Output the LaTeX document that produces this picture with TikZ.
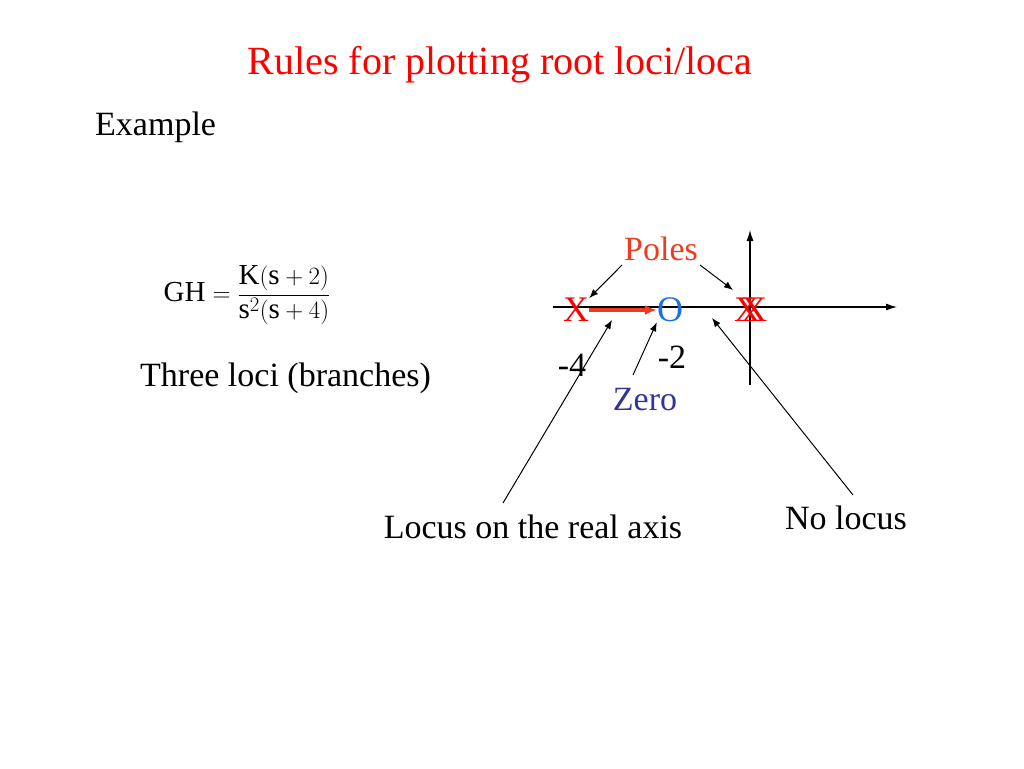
\documentclass[tikz,border=0pt]{standalone}
\usepackage{fontspec}
\setmainfont{Liberation Serif}
\usetikzlibrary{positioning,arrows.meta}
\definecolor{polered}{RGB}{240,60,30}
\definecolor{zeroblue}{RGB}{51,51,153}
\definecolor{oblue}{RGB}{30,110,230}
\begin{document}
\begin{tikzpicture}[
            x=1pt, y=-1pt,
            txt/.style={font=\fontsize{34}{38}\selectfont, inner sep=0pt},
            rootmark/.style={font=\fontsize{36}{38}\selectfont, inner sep=0pt, text=red},
            pointer/.style={draw, -{Latex[length=9pt,width=7pt]}, line width=1pt},
            axis/.style={draw, -{Latex[length=11pt,width=7pt]}, line width=1.1pt}
        ]
        \useasboundingbox (0,0) rectangle (1024,768);
        \node[txt, text=red, font=\fontsize{40}{44}\selectfont] (title) at (500,65) {Rules for plotting root loci/loca};
        \node[txt, anchor=west] (example) at (95,127) {Example};
        \node[inner sep=0pt, font=\fontsize{29}{34}\selectfont] (gh) at (247,295)
            {$\displaystyle \mathrm{GH}=\frac{\mathrm{K}(\mathrm{s}+2)}{\mathrm{s}^{2}(\mathrm{s}+4)}$};
        \node[txt, anchor=west] (three) at (140,378) {Three loci (branches)};
        % axes
        \coordinate (re0) at (553,307);
        \coordinate (re1) at (897,307);
        \coordinate (im0) at (750,385);
        \coordinate (im1) at (750,230);
        \draw[axis] (re0) -- (re1);
        \draw[axis] (im0) -- (im1);
        % poles and zero
        \node[rootmark] (p4) at (576,310) {X};
        \node[rootmark, text=oblue] (z2) at (670,310) {O};
        \node[rootmark] (p0a) at (747,310) {X};
        \node[rootmark] (p0b) at (754,310) {X};
        \draw[-{Latex[length=12pt,width=10pt]}, line width=4pt, polered] (p4.east) -- (z2.west);
        % labels
        \node[txt, text=polered] (poles) at (661,249) {Poles};
        \node[txt] (m4) at (572,365) {-4};
        \node[txt] (m2) at (672,357) {-2};
        \node[txt, text=zeroblue] (zero) at (645,400) {Zero};
        \node[txt] (locus) at (533,527) {Locus on the real axis};
        \node[txt] (nolocus) at (846,518) {No locus};
        \coordinate (locustip) at (612,320);
        \coordinate (notip) at (712,318);
        \draw[pointer] (622,265) -- (p4.north east);
        \draw[pointer] (700,265) -- (733,290);
        \draw[pointer] (633,375) -- (z2.south west);
        \draw[pointer] (503,503) -- (locustip);
        \draw[pointer] (853,495) -- (notip);
\end{tikzpicture}
\end{document}
